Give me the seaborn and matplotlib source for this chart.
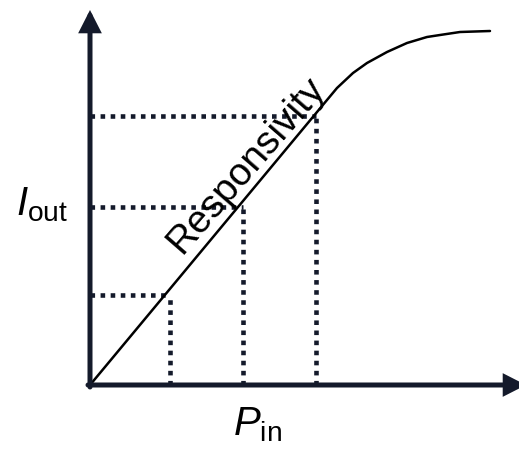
import matplotlib
matplotlib.use("Agg")
import matplotlib.pyplot as plt
import seaborn as sns
import pandas as pd

# response curve (P_in, I_out)
p_in = [0.0, 2.37, 2.47, 2.63, 2.77, 2.97, 3.17, 3.37, 3.50, 3.70, 4.00]
i_out = [0.0, 2.85, 2.97, 3.12, 3.22, 3.33, 3.42, 3.48, 3.50, 3.53, 3.54]

# dotted guide lines: input levels and the matching outputs
level_x = [0.80, 1.53, 2.26]
level_y = [0.90, 1.78, 2.69]

axis_color = "#141a2b"

sns.set_style("white")
plt.rcParams["font.family"] = ["Liberation Sans", "DejaVu Sans"]
plt.rcParams["mathtext.fontset"] = "custom"
plt.rcParams["mathtext.rm"] = "Liberation Sans"
plt.rcParams["mathtext.it"] = "Liberation Sans:italic"

fig = plt.figure(figsize=(5.19, 4.5), dpi=100)
ax = fig.add_axes([90 / 519, 65 / 450, 429 / 519, 373 / 450])
ax.set_xlim(0, 4.29)
ax.set_ylim(0, 3.73)
ax.axis("off")

# dotted guides
for x, y in zip(level_x, level_y):
    ax.plot([0, x], [y, y], color=axis_color, lw=3.3, ls=(0, (1, 1.2)),
            dash_capstyle="butt", zorder=2)
    ax.plot([x, x], [0, y], color=axis_color, lw=3.3, ls=(0, (1, 1.2)),
            dash_capstyle="butt", zorder=2)

df = pd.DataFrame({"P": p_in, "I": i_out})
sns.lineplot(data=df, x="P", y="I", ax=ax, color="black", lw=1.8,
             sort=False, zorder=3)
ax.lines[-1].set_clip_on(False)

# axes with arrow heads
arrow = dict(arrowstyle="-|>,head_length=0.55,head_width=0.28",
             mutation_scale=20, lw=3.6, color=axis_color,
             shrinkA=0, shrinkB=0, joinstyle="miter")
ax.annotate("", xy=(0, 3.75), xytext=(0, -0.02), arrowprops=arrow,
            annotation_clip=False)
ax.annotate("", xy=(4.36, 0), xytext=(-0.02, 0), arrowprops=arrow,
            annotation_clip=False)

ax.text(1.64, 2.13, "Responsivity", rotation=49, rotation_mode="anchor",
        ha="center", va="baseline", fontsize=28, color="black")
ax.text(1.67, -0.40, r"$P_{\mathrm{in}}$", ha="center", va="center",
        fontsize=29, color="black")
ax.text(-0.48, 1.80, r"$I_{\mathrm{out}}$", ha="center", va="center",
        fontsize=29, color="black")

fig.savefig("out.png", dpi=100)
